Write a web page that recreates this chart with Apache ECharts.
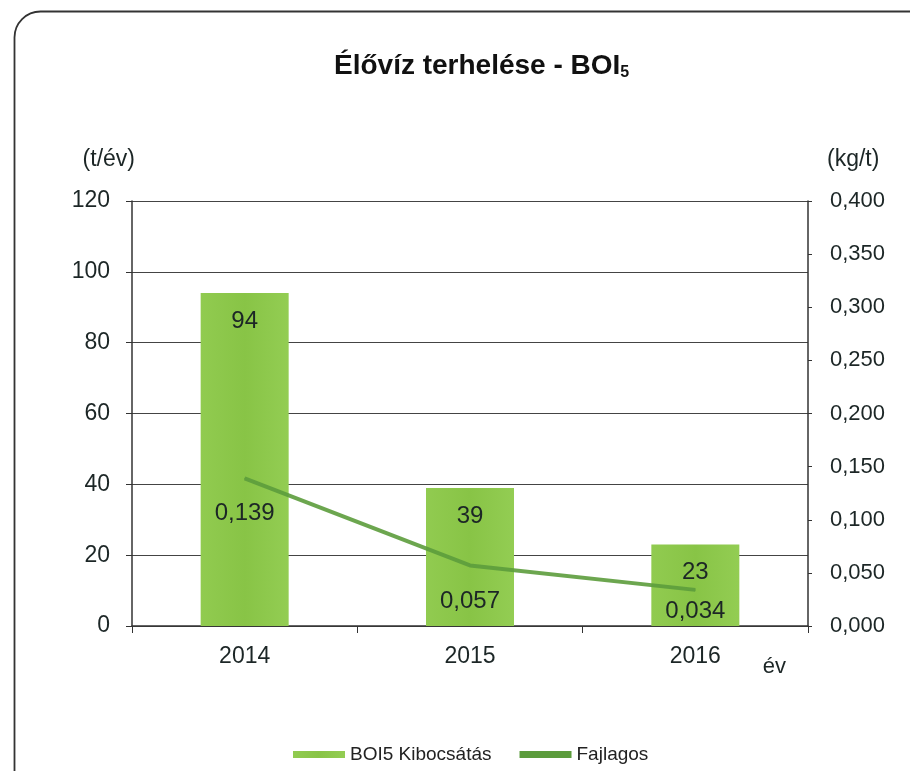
<!DOCTYPE html>
<html>
<head>
<meta charset="utf-8">
<title>Élővíz terhelése - BOI5</title>
<script src="https://cdn.jsdelivr.net/npm/echarts@6/dist/echarts.min.js"></script>
<style>
html, body { margin: 0; padding: 0; background: #fff; }
#chart { width: 910px; height: 771px; }
</style>
</head>
<body>
<div id="chart"></div>
<script>
// adatok
const years = ['2014', '2015', '2016']
const kibocsatas = [94, 39, 23]
const fajlagos = [0.139, 0.057, 0.034]
// címke távolságok a vonal pontjai alatt
const lineLabelDist = [23, 23, 9]

const font = 'Liberation Sans, Arial, sans-serif'
const txt = '#1c2626'
const lineColor = '#5c9c3c'

let chart = echarts.init(document.getElementById('chart'))

let fmt = function (v) {
  return v.toFixed(3).replace('.', ',')
}

let option = {
  animation: false,
  backgroundColor: '#fff',
  graphic: [
    {
      type: 'rect',
      left: 12,
      top: 9,
      shape: { width: 940, height: 800, r: 26 },
      style: { fill: 'none', stroke: '#333', lineWidth: 1.8 },
      silent: true
    }
  ],
  title: {
    text: '{a|Élővíz terhelése - BOI}{b|5}',
    left: 329,
    top: 46,
    textStyle: {
      rich: {
        a: { fontFamily: font, fontSize: 28, fontWeight: 'bold', color: '#111' },
        b: { fontFamily: font, fontSize: 16, fontWeight: 'bold', color: '#111', padding: [14, 0, 0, 0] }
      }
    }
  },
  legend: {
    top: 740,
    left: 288,
    itemWidth: 52,
    itemHeight: 7,
    itemGap: 28,
    textStyle: { fontFamily: font, fontSize: 19, color: '#222' },
    data: [
      { name: 'BOI5 Kibocsátás', icon: 'rect' },
      { name: 'Fajlagos', icon: 'rect', itemStyle: { color: lineColor } }
    ]
  },
  grid: {
    left: 132,
    right: 102,
    top: 201,
    bottom: 145
  },
  xAxis: {
    type: 'category',
    data: years,
    name: 'év',
    nameLocation: 'end',
    nameGap: 0,
    nameTextStyle: {
      fontFamily: font,
      fontSize: 22,
      color: txt,
      align: 'right',
      verticalAlign: 'top',
      padding: [30, 22, 0, 0]
    },
    axisLine: { lineStyle: { color: '#333', width: 1.5 } },
    axisTick: { show: true, length: 7, lineStyle: { color: '#333' } },
    axisLabel: { fontFamily: font, fontSize: 23, color: txt, margin: 19 }
  },
  yAxis: [
    {
      type: 'value',
      min: 0,
      max: 120,
      interval: 20,
      name: '(t/év)',
      nameLocation: 'end',
      nameGap: 30,
      nameTextStyle: {
        fontFamily: font,
        fontSize: 23,
        color: txt,
        align: 'right',
        padding: [0, -3, 0, 0]
      },
      axisLine: { show: true, lineStyle: { color: '#333', width: 1.5 } },
      axisTick: { show: true, length: 6, lineStyle: { color: '#333' } },
      axisLabel: { fontFamily: font, fontSize: 23, color: txt, margin: 22 },
      splitLine: { show: true, lineStyle: { color: '#444', width: 1.2 } }
    },
    {
      type: 'value',
      min: 0,
      max: 0.4,
      interval: 0.05,
      name: '(kg/t)',
      nameLocation: 'end',
      nameGap: 30,
      nameTextStyle: {
        fontFamily: font,
        fontSize: 23,
        color: txt,
        align: 'left',
        padding: [0, 0, 0, 19]
      },
      axisLine: { show: true, lineStyle: { color: '#333', width: 1.5 } },
      axisTick: { show: true, length: 4, lineStyle: { color: '#333' } },
      axisLabel: {
        fontFamily: font,
        fontSize: 22,
        color: txt,
        margin: 22,
        formatter: fmt
      },
      splitLine: { show: false }
    }
  ],
  series: [
    {
      name: 'BOI5 Kibocsátás',
      type: 'bar',
      yAxisIndex: 0,
      barWidth: 88,
      data: kibocsatas,
      itemStyle: {
        color: new echarts.graphic.LinearGradient(0, 0, 1, 0, [
          { offset: 0, color: '#91cb50' },
          { offset: 0.5, color: '#88c446' },
          { offset: 1, color: '#93cd53' }
        ])
      },
      label: {
        show: true,
        position: 'insideTop',
        distance: 16,
        fontFamily: font,
        fontSize: 24,
        color: txt
      }
    },
    {
      name: 'Fajlagos',
      type: 'line',
      yAxisIndex: 1,
      symbol: 'circle',
      symbolSize: 1,
      showSymbol: true,
      data: fajlagos.map(function (v, i) {
        return {
          value: v,
          label: { distance: lineLabelDist[i] }
        }
      }),
      lineStyle: { color: lineColor, width: 4, opacity: 0.9 },
      itemStyle: { color: lineColor },
      label: {
        show: true,
        position: 'bottom',
        fontFamily: font,
        fontSize: 24,
        color: txt,
        formatter: function (p) {
          return fmt(p.value)
        }
      },
      z: 3
    }
  ]
}

chart.setOption(option)
</script>
</body>
</html>
